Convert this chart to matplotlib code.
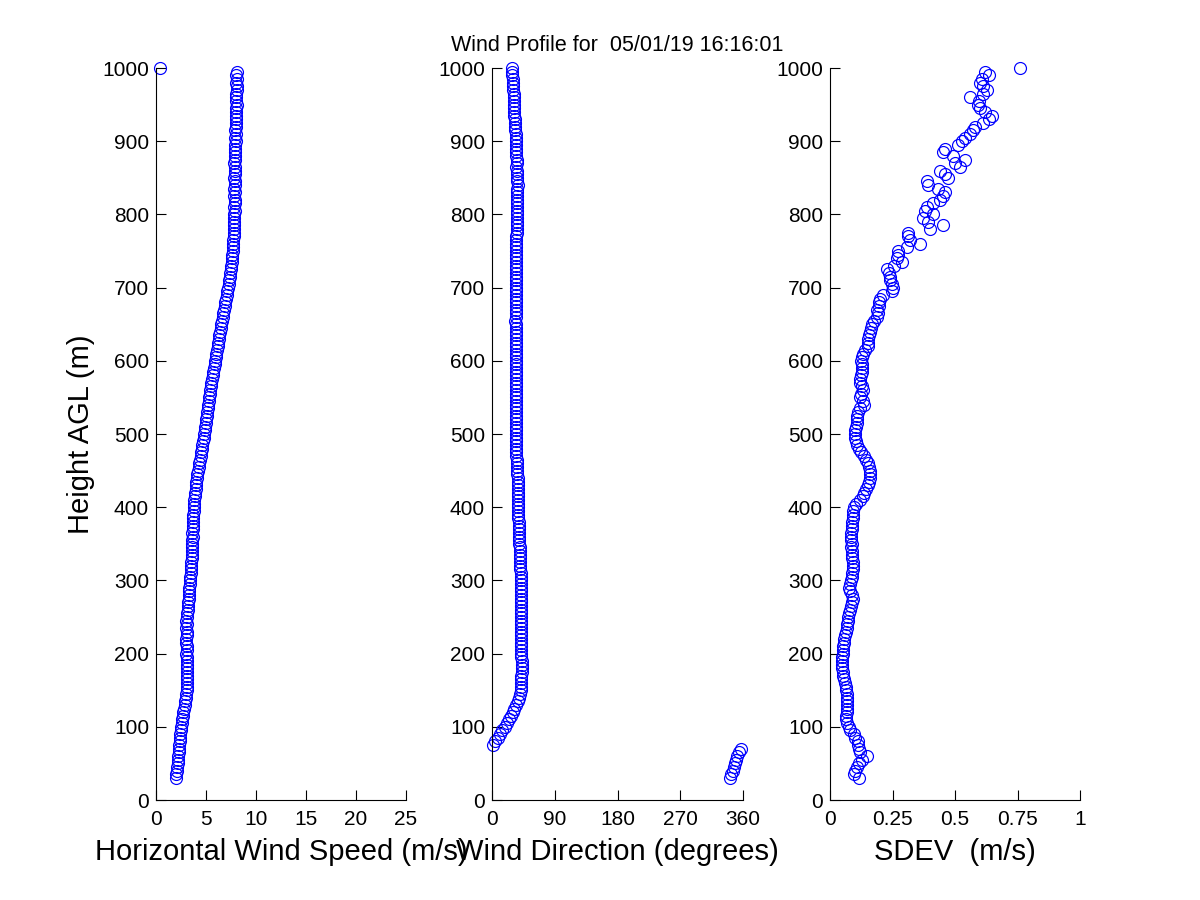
import matplotlib.pyplot as plt

plt.rcParams['font.family'] = ['Liberation Sans', 'DejaVu Sans']

TITLE = 'Wind Profile for  05/01/19 16:16:01'

HEIGHTS = [
    30, 35, 40, 45, 50, 55, 60, 65, 70, 75,
    80, 85, 90, 95, 100, 105, 110, 115, 120, 125,
    130, 135, 140, 145, 150, 155, 160, 165, 170, 175,
    180, 185, 190, 195, 200, 205, 210, 215, 220, 225,
    230, 235, 240, 245, 250, 255, 260, 265, 270, 275,
    280, 285, 290, 295, 300, 305, 310, 315, 320, 325,
    330, 335, 340, 345, 350, 355, 360, 365, 370, 375,
    380, 385, 390, 395, 400, 405, 410, 415, 420, 425,
    430, 435, 440, 445, 450, 455, 460, 465, 470, 475,
    480, 485, 490, 495, 500, 505, 510, 515, 520, 525,
    530, 535, 540, 545, 550, 555, 560, 565, 570, 575,
    580, 585, 590, 595, 600, 605, 610, 615, 620, 625,
    630, 635, 640, 645, 650, 655, 660, 665, 670, 675,
    680, 685, 690, 695, 700, 705, 710, 715, 720, 725,
    730, 735, 740, 745, 750, 755, 760, 765, 770, 775,
    780, 785, 790, 795, 800, 805, 810, 815, 820, 825,
    830, 835, 840, 845, 850, 855, 860, 865, 870, 875,
    880, 885, 890, 895, 900, 905, 910, 915, 920, 925,
    930, 935, 940, 945, 950, 955, 960, 965, 970, 975,
    980, 985, 990, 995, 1000,
]

# horizontal wind speed (m/s)
SPEED = [
    2.0, 2.05, 2.1, 2.15, 2.2, 2.2, 2.25, 2.3, 2.3, 2.35,
    2.4, 2.4, 2.45, 2.5, 2.55, 2.6, 2.65, 2.7, 2.75, 2.8,
    2.9, 2.95, 3.0, 3.05, 3.1, 3.1, 3.1, 3.15, 3.1, 3.1,
    3.1, 3.15, 3.1, 3.1, 3.05, 3.1, 3.1, 3.05, 3.05, 3.1,
    3.1, 3.05, 3.1, 3.05, 3.1, 3.15, 3.2, 3.2, 3.25, 3.3,
    3.3, 3.35, 3.35, 3.4, 3.45, 3.45, 3.5, 3.5, 3.55, 3.55,
    3.6, 3.6, 3.6, 3.65, 3.6, 3.65, 3.7, 3.65, 3.7, 3.7,
    3.7, 3.75, 3.75, 3.8, 3.8, 3.85, 3.85, 3.9, 3.95, 4.0,
    4.0, 4.05, 4.1, 4.15, 4.2, 4.3, 4.35, 4.4, 4.5, 4.55,
    4.6, 4.65, 4.7, 4.8, 4.85, 4.9, 4.95, 5.0, 5.05, 5.1,
    5.15, 5.2, 5.25, 5.3, 5.35, 5.4, 5.45, 5.5, 5.55, 5.6,
    5.7, 5.75, 5.8, 5.9, 5.95, 6.0, 6.05, 6.1, 6.2, 6.25,
    6.3, 6.35, 6.45, 6.5, 6.55, 6.6, 6.7, 6.75, 6.8, 6.9,
    6.95, 7.0, 7.1, 7.15, 7.2, 7.3, 7.35, 7.4, 7.45, 7.5,
    7.55, 7.6, 7.6, 7.65, 7.7, 7.7, 7.75, 7.75, 7.8, 7.8,
    7.8, 7.85, 7.8, 7.85, 7.85, 7.9, 7.85, 7.9, 7.9, 7.85,
    7.9, 7.85, 7.9, 7.9, 7.85, 7.9, 7.95, 7.9, 7.85, 7.9,
    7.9, 7.95, 7.9, 7.95, 8.0, 7.95, 8.0, 7.95, 8.0, 8.0,
    8.0, 8.05, 8.0, 8.05, 8.1, 8.05, 8.0, 8.05, 8.1, 8.1,
    8.05, 8.1, 8.05, 8.1, 0.4,
]

# wind direction (degrees)
DIRECTION = [
    341, 343, 345, 347, 349, 350, 352, 354, 357, 1,
    5, 9, 12, 15, 18, 21, 24, 27, 30, 32,
    35, 37, 39, 40, 41, 41, 42, 42, 42, 43,
    43, 43, 43, 42, 42, 42, 42, 41, 41, 41,
    41, 41, 41, 41, 41, 41, 42, 41, 41, 41,
    41, 41, 41, 41, 41, 41, 41, 40, 40, 40,
    40, 40, 40, 40, 39, 39, 39, 39, 39, 39,
    39, 38, 38, 38, 38, 38, 38, 37, 37, 37,
    37, 37, 37, 36, 36, 36, 36, 36, 35, 35,
    35, 35, 35, 35, 35, 35, 35, 34, 34, 34,
    34, 34, 34, 34, 34, 34, 34, 34, 34, 34,
    34, 34, 34, 35, 35, 34, 34, 34, 34, 34,
    34, 34, 34, 34, 34, 33, 34, 34, 34, 34,
    34, 34, 34, 35, 35, 35, 35, 35, 35, 35,
    35, 35, 35, 35, 35, 35, 35, 35, 35, 36,
    36, 36, 36, 36, 36, 36, 36, 36, 36, 36,
    36, 36, 37, 36, 36, 36, 36, 35, 36, 36,
    35, 35, 35, 34, 34, 34, 34, 33, 33, 33,
    33, 32, 32, 32, 31, 31, 31, 31, 30, 30,
    30, 30, 29, 29, 29,
]

# standard deviation (m/s)
SDEV = [
    0.117, 0.096, 0.1, 0.109, 0.115, 0.127, 0.147, 0.12, 0.117, 0.113,
    0.11, 0.1, 0.095, 0.08, 0.075, 0.067, 0.065, 0.065, 0.066, 0.067,
    0.068, 0.067, 0.066, 0.067, 0.064, 0.064, 0.06, 0.055, 0.051, 0.05,
    0.048, 0.047, 0.047, 0.048, 0.05, 0.05, 0.053, 0.055, 0.057, 0.06,
    0.064, 0.066, 0.068, 0.07, 0.073, 0.075, 0.08, 0.085, 0.088, 0.091,
    0.088, 0.08, 0.077, 0.08, 0.085, 0.087, 0.088, 0.09, 0.091, 0.09,
    0.088, 0.087, 0.087, 0.085, 0.086, 0.084, 0.084, 0.085, 0.086, 0.087,
    0.088, 0.09, 0.091, 0.091, 0.095, 0.105, 0.12, 0.13, 0.136, 0.145,
    0.153, 0.156, 0.16, 0.16, 0.158, 0.157, 0.15, 0.142, 0.136, 0.125,
    0.115, 0.109, 0.104, 0.1, 0.1, 0.1, 0.103, 0.109, 0.109, 0.109,
    0.112, 0.12, 0.137, 0.13, 0.12, 0.125, 0.133, 0.128, 0.12, 0.12,
    0.122, 0.127, 0.127, 0.127, 0.125, 0.127, 0.13, 0.14, 0.153, 0.15,
    0.153, 0.155, 0.16, 0.165, 0.167, 0.175, 0.187, 0.19, 0.187, 0.195,
    0.195, 0.2, 0.21, 0.247, 0.25, 0.247, 0.24, 0.24, 0.235, 0.227,
    0.255, 0.287, 0.267, 0.27, 0.27, 0.307, 0.36, 0.32, 0.313, 0.313,
    0.4, 0.453, 0.39, 0.373, 0.413, 0.38, 0.387, 0.413, 0.44, 0.453,
    0.46, 0.43, 0.393, 0.387, 0.473, 0.46, 0.44, 0.52, 0.5, 0.54,
    0.49, 0.453, 0.46, 0.513, 0.527, 0.54, 0.56, 0.571, 0.58, 0.613,
    0.637, 0.647, 0.62, 0.6, 0.59, 0.597, 0.56, 0.61, 0.627, 0.613,
    0.6, 0.607, 0.637, 0.62, 0.76,
]

SPEED_TICKS = [0, 5, 10, 15, 20, 25]
DIR_TICKS = [0, 90, 180, 270, 360]
SDEV_TICKS = [0, 0.25, 0.5, 0.75, 1]
SDEV_TICK_LABELS = ['0', '0.25', '0.5', '0.75', '1']
HEIGHT_TICKS = list(range(0, 1001, 100))


def profile_panel(ax, values, xlim, xticks, xlabel, xticklabels=None):
    ax.plot(values, HEIGHTS, 'o', mfc='none', mec='blue', ms=8.6,
            mew=0.85, clip_on=False)
    ax.set_xlim(*xlim)
    ax.set_ylim(0, 1000)
    ax.set_xticks(xticks)
    if xticklabels is not None:
        ax.set_xticklabels(xticklabels)
    ax.set_yticks(HEIGHT_TICKS)
    ax.spines['top'].set_visible(False)
    ax.spines['right'].set_visible(False)
    for s in ('left', 'bottom'):
        ax.spines[s].set_linewidth(0.8)
    ax.tick_params(direction='in', length=7, width=0.8, labelsize=15)
    ax.tick_params(axis='x', pad=7)
    ax.tick_params(axis='y', pad=5)
    ax.set_xlabel(xlabel, fontsize=21, labelpad=7)


fig = plt.figure(figsize=(12, 9), dpi=100)

ax1 = fig.add_axes([0.13, 0.1111, 0.2083, 0.8133])
ax2 = fig.add_axes([0.41, 0.1111, 0.2092, 0.8133])
ax3 = fig.add_axes([0.6917, 0.1111, 0.2083, 0.8133])

profile_panel(ax1, SPEED, (0, 25), SPEED_TICKS, 'Horizontal Wind Speed (m/s)')
profile_panel(ax2, DIRECTION, (0, 360), DIR_TICKS, 'Wind Direction (degrees)')
profile_panel(ax3, SDEV, (0, 1), SDEV_TICKS, 'SDEV  (m/s)', SDEV_TICK_LABELS)

ax1.set_ylabel('Height AGL (m)', fontsize=21, labelpad=5)
ax2.set_title(TITLE, fontsize=15.5, pad=12)

fig.savefig('out.png', dpi=100, facecolor='white')
